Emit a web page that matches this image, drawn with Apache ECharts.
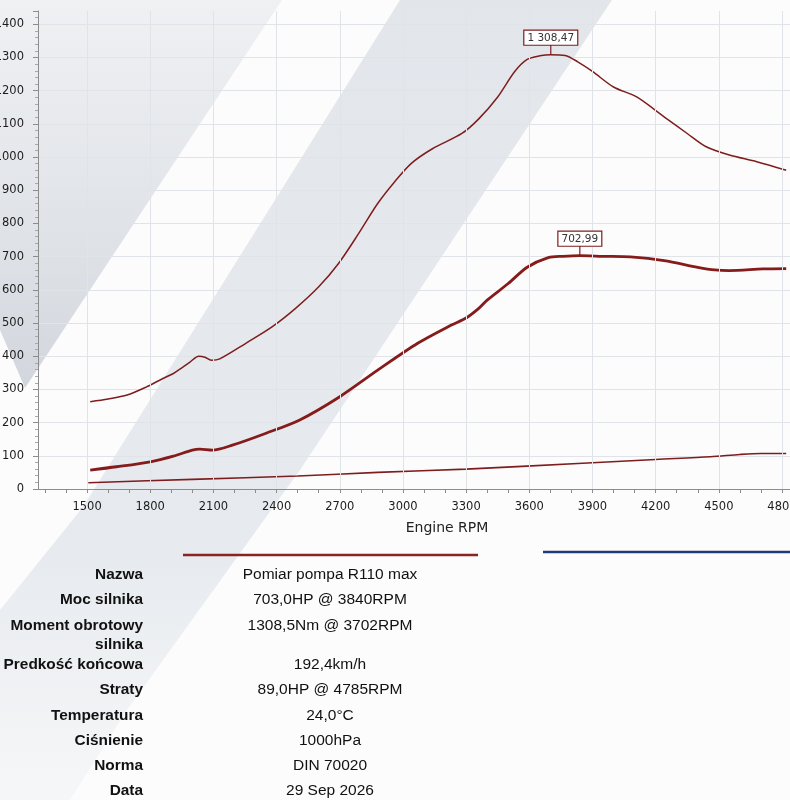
<!DOCTYPE html>
<html>
<head>
<meta charset="utf-8">
<title>Wykres hamowni</title>
<script src="https://cdn.jsdelivr.net/npm/echarts@6/dist/echarts.min.js"></script>
<style>
    html, body { margin: 0; padding: 0; background: #fcfcfc; }
    #chart { width: 790px; height: 800px; }
</style>
</head>
<body>
<div id="chart"></div>
<script>
// dane z wykresu
var torqueRpm = [1515, 1600, 1690, 1780, 1860, 1910, 1950, 1990, 2030, 2060, 2090, 2130, 2254, 2380, 2490, 2600, 2695, 2790, 2880, 2960, 3040, 3140, 3280, 3360, 3450, 3530, 3590, 3650, 3702, 3770, 3830, 3900, 4000, 4110, 4240, 4350, 4440, 4550, 4680, 4820];
var torqueNm = [263, 271, 283, 307, 333, 348, 365, 383, 400, 397, 388, 392, 439, 489, 544, 609, 680, 770, 860, 925, 981, 1025, 1071, 1115, 1181, 1257, 1294, 1305, 1308.47, 1306, 1287, 1258, 1211, 1181, 1121, 1071, 1031, 1006, 986, 960];

var powerRpm = [1515, 1640, 1800, 1910, 2000, 2035, 2095, 2190, 2350, 2510, 2700, 2880, 3070, 3230, 3300, 3360, 3400, 3500, 3590, 3690, 3760, 3840, 3950, 4080, 4240, 4400, 4480, 4550, 4710, 4820];
var powerHp = [57, 67, 82, 99, 117, 120, 117, 132, 168, 208, 278, 358, 439, 494, 515, 544, 569, 619, 668, 697, 701, 702.99, 701, 699, 688, 668, 660, 658, 663, 664];

var lossRpm = [1506, 2000, 2500, 2880, 3300, 3830, 4200, 4460, 4600, 4700, 4820];
var lossHp = [19, 29, 39, 50, 60, 77, 89, 97, 104, 107, 107];

var peakTorque = [3702, 1308.47];
var peakPower = [3840, 702.99];

var labelRpm = [1500, 1800, 2100, 2400, 2700, 3000, 3300, 3600, 3900, 4200, 4500, 4800];
var tickRpm = [1300, 1400, 1500, 1600, 1700, 1800, 1900, 2000, 2100, 2200, 2300, 2400, 2500, 2600, 2700, 2800, 2900, 3000, 3100, 3200, 3300, 3400, 3500, 3600, 3700, 3800, 3900, 4000, 4100, 4200, 4300, 4400, 4500, 4600, 4700, 4800];

var tableLabels = ['Nazwa', 'Moc silnika', 'Moment obrotowy\nsilnika', 'Predkość końcowa', 'Straty', 'Temperatura', 'Ciśnienie', 'Norma', 'Data'];
var tableValues = ['Pomiar pompa R110 max', '703,0HP @ 3840RPM', '1308,5Nm @ 3702RPM', '192,4km/h', '89,0HP @ 4785RPM', '24,0°C', '1000hPa', 'DIN 70020', '29 Sep 2026'];

(function (win) {
    var chart = echarts.init(document.getElementById('chart')),
        curveColor = '#7e1d1d',
        axisFont = '"DejaVu Sans", sans-serif',
        tableFont = '"Liberation Sans", Arial, sans-serif',
        rowY = [575, 600, 626, 665, 690, 716, 741, 766, 791];

    function pairs(xs, ys) {
        var out = [];
        for (var i = 0; i < xs.length; i++) {
            out.push([xs[i], ys[i]]);
        }
        return out;
    }

    //liczby po polsku: 1 308,47
    function plNumber(v) {
        var parts = v.toFixed(2).split('.');
        parts[0] = parts[0].replace(/\B(?=(\d{3})+(?!\d))/g, ' ');
        return parts.join(',');
    }

    function plain(v) {
        return String(v);
    }

    function peakMark(coord) {
        return {
            symbol: 'rect',
            symbolSize: [1.2, 10],
            symbolOffset: [0, -5],
            silent: true,
            itemStyle: { color: curveColor },
            label: {
                show: true,
                position: 'top',
                distance: 0,
                formatter: function (p) {
                    return plNumber(p.value);
                },
                fontFamily: axisFont,
                fontSize: 10.5,
                color: '#333',
                backgroundColor: '#fff',
                borderColor: curveColor,
                borderWidth: 1.2,
                padding: [2, 3, 1, 3]
            },
            data: [{ coord: coord, value: coord[1] }]
        };
    }

    //odblaski na zdjęciu
    var graphics = [
        {
            type: 'polygon',
            z: -10,
            silent: true,
            shape: { points: [[0, 0], [282, 0], [25, 388], [0, 330]] },
            style: {
                fill: new echarts.graphic.LinearGradient(0, 0, 0, 1, [
                    { offset: 0, color: 'rgba(214,219,226,0.35)' },
                    { offset: 1, color: 'rgba(196,201,210,0.75)' }
                ])
            }
        },
        {
            type: 'polygon',
            z: -10,
            silent: true,
            shape: { points: [[400, 0], [612, 0], [300, 470], [127, 710], [70, 800], [0, 800], [0, 610], [83, 507]] },
            style: {
                fill: new echarts.graphic.LinearGradient(0, 0, 0, 1, [
                    { offset: 0, color: 'rgba(218,223,230,0.75)' },
                    { offset: 0.7, color: 'rgba(222,227,233,0.7)' },
                    { offset: 1, color: 'rgba(235,238,242,0.4)' }
                ])
            }
        },
        {
            type: 'text',
            x: 447,
            y: 528,
            style: {
                text: 'Engine RPM',
                align: 'center',
                verticalAlign: 'middle',
                fontFamily: axisFont,
                fontSize: 14,
                fill: '#222'
            }
        },
        {
            type: 'line',
            shape: { x1: 183, y1: 555, x2: 478, y2: 555 },
            style: { stroke: '#8a2323', lineWidth: 2.6 }
        },
        {
            type: 'line',
            shape: { x1: 543, y1: 552, x2: 790, y2: 552 },
            style: { stroke: '#22397a', lineWidth: 2.6 }
        }
    ];

    //tabela
    for (var i = 0; i < tableLabels.length; i++) {
        graphics.push({
            type: 'text',
            x: 143,
            y: rowY[i] - 9.5,
            style: {
                text: tableLabels[i],
                align: 'right',
                verticalAlign: 'top',
                lineHeight: 19,
                fontFamily: tableFont,
                fontWeight: 'bold',
                fontSize: 15.4,
                fill: '#111'
            }
        });
        graphics.push({
            type: 'text',
            x: 330,
            y: rowY[i],
            style: {
                text: tableValues[i],
                align: 'center',
                verticalAlign: 'middle',
                fontFamily: tableFont,
                fontSize: 15.5,
                fill: '#111'
            }
        });
    }

    chart.setOption({
        backgroundColor: '#fcfcfc',
        animation: false,
        grid: {
            left: 38,
            right: 0,
            top: 11,
            bottom: 311,
            outerBoundsMode: 'none',
            containLabel: false
        },
        graphic: graphics,
        xAxis: {
            type: 'value',
            min: 1267,
            max: 4838,
            axisLine: { lineStyle: { color: '#8c8c8c', width: 1 } },
            axisTick: {
                customValues: tickRpm,
                length: 4,
                lineStyle: { color: '#8c8c8c' }
            },
            axisLabel: {
                customValues: labelRpm,
                formatter: plain,
                margin: 12,
                fontFamily: axisFont,
                fontSize: 11.5,
                color: '#1c1c1c'
            },
            splitLine: { show: false }
        },
        yAxis: {
            type: 'value',
            min: 0,
            max: 1440,
            interval: 100,
            axisLine: { show: true, lineStyle: { color: '#8c8c8c', width: 1 } },
            axisTick: { show: true, length: 5, lineStyle: { color: '#8c8c8c' } },
            minorTick: { show: true, splitNumber: 5, length: 3, lineStyle: { color: '#a8a8a8' } },
            axisLabel: {
                showMaxLabel: false,
                formatter: plain,
                margin: 14,
                fontFamily: axisFont,
                fontSize: 11.5,
                color: '#1c1c1c'
            },
            splitLine: {
                showMaxLine: false,
                lineStyle: { color: '#e0e3e7', width: 1 }
            }
        },
        series: [
            {
                name: 'Straty',
                type: 'line',
                data: pairs(lossRpm, lossHp),
                showSymbol: false,
                smooth: 0.3,
                lineStyle: { color: curveColor, width: 1.6 },
                markLine: {
                    silent: true,
                    symbol: ['none', 'none'],
                    label: { show: false },
                    lineStyle: { color: '#e0e3e7', width: 1, type: 'solid' },
                    data: labelRpm.map(function (v) {
                        return { xAxis: v };
                    })
                }
            },
            {
                name: 'Moment obrotowy',
                type: 'line',
                data: pairs(torqueRpm, torqueNm),
                showSymbol: false,
                smooth: 0.3,
                lineStyle: { color: curveColor, width: 1.5 },
                markPoint: peakMark(peakTorque)
            },
            {
                name: 'Moc',
                type: 'line',
                data: pairs(powerRpm, powerHp),
                showSymbol: false,
                smooth: 0.3,
                lineStyle: { color: '#861b1b', width: 2.8 },
                markPoint: peakMark(peakPower)
            }
        ]
    });
})(this);
</script>
</body>
</html>
